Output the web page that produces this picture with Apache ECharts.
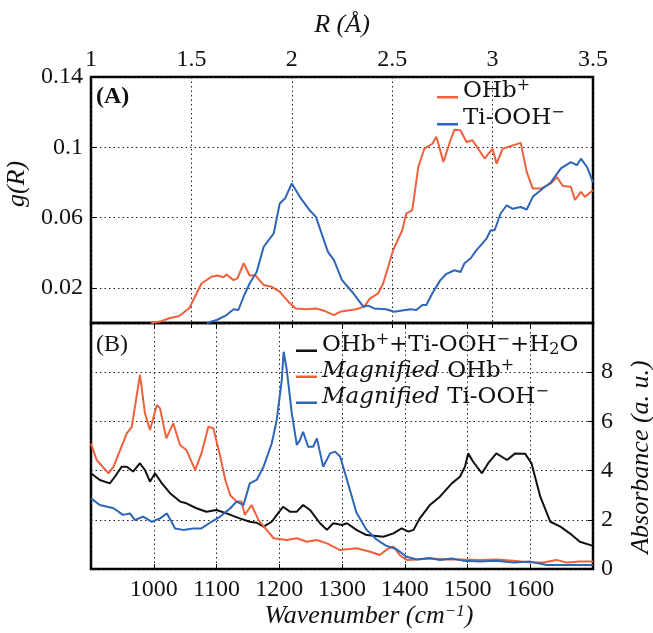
<!DOCTYPE html>
<html>
<head>
<meta charset="utf-8">
<title>g(R) and IR spectra</title>
<script src="https://cdn.jsdelivr.net/npm/echarts@6.0.0/dist/echarts.min.js"></script>
<style>
  html, body { margin: 0; padding: 0; background: #fff; }
  #container { width: 653px; height: 633px; }
</style>
</head>
<body>
<div id="container"></div>
<script type="text/javascript">
// (A) radial distribution g(R)
var rOhb = [1.30, 1.35, 1.39, 1.44, 1.49, 1.55, 1.60, 1.63, 1.66, 1.675, 1.71, 1.73, 1.76, 1.79, 1.82, 1.86, 1.90, 1.94, 1.99, 2.02,
  2.07, 2.12, 2.16, 2.21, 2.24, 2.32, 2.36, 2.39, 2.43, 2.455, 2.505, 2.55, 2.57, 2.60, 2.63, 2.66, 2.70, 2.72, 2.755, 2.79,
  2.81, 2.84, 2.87, 2.90, 2.96, 3.00, 3.02, 3.05, 3.14, 3.17, 3.20, 3.24, 3.29, 3.32, 3.35, 3.39, 3.41, 3.44, 3.46, 3.50];
var gOhb = [0, 0.001, 0.0027, 0.004, 0.0085, 0.0225, 0.0263, 0.027, 0.026, 0.0276, 0.0244, 0.0255, 0.034, 0.027, 0.027, 0.0216, 0.0206, 0.0178, 0.0112, 0.0083,
  0.0078, 0.0083, 0.007, 0.0045, 0.0064, 0.0078, 0.0093, 0.014, 0.0169, 0.0225, 0.0415, 0.0528, 0.0623, 0.0642, 0.0888, 0.0992, 0.102, 0.106, 0.0917, 0.104,
  0.11, 0.1097, 0.103, 0.104, 0.0936, 0.0992, 0.0907, 0.0992, 0.1025, 0.086, 0.0765, 0.0765, 0.0794, 0.083, 0.078, 0.0775, 0.07, 0.0746, 0.0718, 0.0756];

var rTi = [1.576, 1.626, 1.675, 1.71, 1.734, 1.76, 1.79, 1.825, 1.86, 1.91, 1.94, 1.966, 2.00, 2.04, 2.09, 2.12, 2.18, 2.21, 2.25, 2.30,
  2.356, 2.38, 2.41, 2.47, 2.51, 2.59, 2.62, 2.65, 2.67, 2.70, 2.74, 2.77, 2.81, 2.84, 2.86, 2.89, 2.92, 2.97, 2.99, 3.01,
  3.04, 3.07, 3.10, 3.14, 3.17, 3.20, 3.25, 3.29, 3.34, 3.39, 3.42, 3.44, 3.47, 3.50];
var gTi = [0, 0.0017, 0.0045, 0.0078, 0.0074, 0.015, 0.0225, 0.029, 0.0434, 0.051, 0.068, 0.0708, 0.0794, 0.0718, 0.064, 0.0604, 0.0405, 0.0358, 0.0244, 0.0178,
  0.0093, 0.0099, 0.0083, 0.0078, 0.0064, 0.0078, 0.0074, 0.0102, 0.0102, 0.0169, 0.0244, 0.028, 0.030, 0.029, 0.034, 0.0367, 0.0415, 0.048, 0.0528, 0.0528,
  0.0623, 0.067, 0.065, 0.066, 0.0646, 0.0718, 0.0765, 0.080, 0.088, 0.0916, 0.0898, 0.0935, 0.0888, 0.080];

// (B) spectra
var wnSum = [900, 914, 930, 938, 949, 957, 967, 978, 986, 994, 1002, 1013, 1026, 1042, 1052, 1068, 1084, 1100, 1116, 1137,
  1153, 1164, 1175, 1188, 1198, 1206, 1217, 1228, 1238, 1249, 1265, 1276, 1286, 1300, 1308, 1323, 1339, 1366, 1382, 1395,
  1406, 1414, 1424, 1440, 1456, 1475, 1488, 1496, 1501, 1509, 1523, 1533, 1546, 1563, 1576, 1592, 1602, 1616, 1632, 1648,
  1663, 1679, 1700];
var absSum = [3.89, 3.62, 3.48, 3.75, 4.16, 4.16, 3.96, 4.30, 4.02, 3.55, 3.89, 3.48, 3.08, 2.74, 2.67, 2.47, 2.33, 2.40, 2.26, 2.06,
  1.92, 1.88, 1.72, 1.92, 2.26, 2.53, 2.33, 2.33, 2.60, 2.40, 1.86, 1.59, 1.86, 1.79, 1.86, 1.59, 1.38, 1.31, 1.45, 1.65,
  1.52, 1.59, 2.06, 2.60, 2.94, 3.48, 3.75, 4.16, 4.70, 4.36, 3.89, 4.30, 4.70, 4.43, 4.70, 4.68, 4.30, 2.94, 1.92, 1.72,
  1.45, 1.11, 0.94];

var wnOhb = [900, 909, 928, 936, 957, 965, 978, 986, 994, 1005, 1010, 1020, 1031, 1042, 1052, 1066, 1076, 1087, 1095, 1106,
  1114, 1122, 1132, 1140, 1145, 1156, 1167, 1180, 1191, 1212, 1228, 1244, 1260, 1276, 1297, 1323, 1345, 1360, 1374, 1382,
  1392, 1403, 1419, 1440, 1467, 1493, 1520, 1546, 1573, 1600, 1621, 1642, 1658, 1679, 1700];
var absOhb = [5.1, 4.43, 3.89, 4.16, 5.51, 5.78, 7.89, 6.33, 5.65, 6.67, 6.53, 5.31, 5.92, 5.04, 4.84, 4.02, 4.70, 5.78, 5.72, 4.57,
  3.62, 3.0, 2.74, 2.74, 2.20, 2.60, 1.99, 1.59, 1.25, 1.18, 1.25, 1.11, 1.18, 1.04, 0.77, 0.84, 0.70, 0.57, 0.84, 0.91,
  0.57, 0.37, 0.39, 0.43, 0.39, 0.39, 0.37, 0.39, 0.34, 0.26, 0.26, 0.37, 0.26, 0.30, 0.30];

var wnTi = [900, 914, 936, 951, 962, 970, 983, 997, 1010, 1021, 1034, 1047, 1063, 1076, 1092, 1106, 1122, 1132, 1143, 1153,
  1164, 1175, 1188, 1196, 1204, 1207, 1212, 1220, 1228, 1233, 1238, 1246, 1254, 1260, 1270, 1281, 1289, 1297, 1308, 1323,
  1339, 1355, 1370, 1387, 1403, 1419, 1440, 1456, 1475, 1493, 1520, 1546, 1573, 1600, 1626, 1652, 1700];
var absTi = [2.87, 2.60, 2.47, 2.20, 2.26, 1.99, 2.13, 1.92, 2.06, 2.26, 1.65, 1.59, 1.65, 1.65, 1.92, 2.13, 2.47, 2.74, 2.60, 3.48,
  3.62, 4.16, 5.10, 6.06, 7.68, 8.83, 8.09, 6.33, 5.04, 5.24, 5.58, 4.97, 4.97, 5.31, 4.16, 4.70, 4.77, 4.57, 3.62, 2.30,
  1.60, 1.20, 0.95, 0.80, 0.50, 0.39, 0.45, 0.37, 0.43, 0.34, 0.30, 0.34, 0.26, 0.30, 0.16, 0.16, 0.16];

var gTicks = [0.02, 0.06, 0.1, 0.14];

var ORANGE = '#f0603c';
var BLUE = '#2d65b8';
var BLACK = '#111111';
var FONT = '"Liberation Serif", "DejaVu Serif", serif';
var LFONT = '"DejaVu Serif", serif';

function zip(xs, ys) {
  return xs.map(function (x, i) { return [x, ys[i]]; });
}

var dom = document.getElementById('container');
var myChart = echarts.init(dom, null, { renderer: 'canvas' });

var dotted = { color: '#222', width: 1, type: [1.5, 3] };
var tickStyle = { inside: true, length: 5, lineStyle: { color: '#000', width: 1 } };
var labelStyle = { fontFamily: FONT, fontSize: 24, color: BLACK };
var nameStyle = { fontFamily: FONT, fontSize: 26, fontStyle: 'italic', color: BLACK };
var rich = {
  sup: { fontFamily: LFONT, fontSize: 16, lineHeight: 8, verticalAlign: 'top', color: BLACK },
  sub: { fontFamily: LFONT, fontSize: 16, lineHeight: 8, verticalAlign: 'bottom', color: BLACK },
  it: { fontFamily: LFONT, fontSize: 23, fontStyle: 'italic', color: BLACK }
};
var nameRich = {
  sup: { fontFamily: FONT, fontSize: 17, lineHeight: 8, verticalAlign: 'top', fontStyle: 'italic', color: BLACK }
};
// short dash placed near the bottom of the icon box
var dashIcon = 'path://M0,0M0,11.5L21,11.5L21,14L0,14Z';

var legendNames = {
  'OHb+': 'OHb{sup|+}',
  'Ti-OOH-': 'Ti-OOH{sup|\u2212}',
  'sum': 'OHb{sup|+}+Ti-OOH{sup|\u2212}+H{sub|2}O',
  'magOhb': '{it|Magnified} OHb{sup|+}',
  'magTi': '{it|Magnified} Ti-OOH{sup|\u2212}'
};

function legendBase(names, left, top, lh) {
  return {
    data: names,
    orient: 'vertical',
    left: left,
    top: top,
    padding: 0,
    itemGap: 0,
    itemWidth: 21,
    itemHeight: 14,
    icon: dashIcon,
    itemStyle: { borderWidth: 0 },
    selectedMode: false,
    textStyle: { fontFamily: LFONT, fontSize: 23, color: BLACK, lineHeight: lh, rich: rich },
    formatter: function (name) { return legendNames[name]; }
  };
}

var option = {
  animation: false,
  backgroundColor: '#fff',
  title: [
    { text: '(A)', left: 96, top: 85, padding: 0,
      textStyle: { fontFamily: FONT, fontSize: 24, fontWeight: 'bold', color: BLACK } },
    { text: '(B)', left: 96, top: 333, padding: 0,
      textStyle: { fontFamily: FONT, fontSize: 24, fontWeight: 'normal', color: BLACK } }
  ],
  legend: [
    legendBase(['OHb+', 'Ti-OOH-'], 437, 78, 27),
    legendBase(['sum', 'magOhb', 'magTi'], 296, 332, 26)
  ],
  grid: [
    { left: 91, top: 77, width: 502, height: 246, show: true, borderColor: '#000', borderWidth: 2.5,
      backgroundColor: 'transparent', outerBoundsMode: 'none', containLabel: false },
    { left: 91, top: 323, width: 502, height: 246, show: true, borderColor: '#000', borderWidth: 2.5,
      backgroundColor: 'transparent', outerBoundsMode: 'none', containLabel: false }
  ],
  xAxis: [
    {
      gridIndex: 0, type: 'value', position: 'top', min: 1, max: 3.5, interval: 0.5,
      axisLine: { show: false }, axisTick: tickStyle,
      axisLabel: Object.assign({ margin: 5, showMinLabel: true, showMaxLabel: true }, labelStyle),
      splitLine: { show: true, lineStyle: dotted },
      name: 'R (\u00c5)', nameLocation: 'middle', nameGap: 39, nameTextStyle: nameStyle
    },
    {
      gridIndex: 1, type: 'value', position: 'bottom', min: 900, max: 1700, interval: 100,
      axisLine: { show: false }, axisTick: tickStyle,
      axisLabel: Object.assign({
        margin: 9,
        formatter: function (v) { return (v === 900 || v === 1700) ? '' : String(v); }
      }, labelStyle),
      splitLine: { show: true, lineStyle: dotted },
      name: 'Wavenumber (cm{sup|\u22121})', nameLocation: 'middle', nameGap: 32,
      nameTextStyle: Object.assign({ padding: [0, 0, 0, 54], rich: nameRich }, nameStyle)
    },
    {
      gridIndex: 1, type: 'value', position: 'top', min: 900, max: 1700, interval: 100,
      axisLine: { show: false }, axisTick: tickStyle, axisLabel: { show: false }, splitLine: { show: false }
    }
  ],
  yAxis: [
    {
      gridIndex: 0, type: 'value', position: 'left', min: 0, max: 0.14,
      axisLine: { show: false },
      axisTick: Object.assign({ customValues: gTicks }, tickStyle),
      axisLabel: Object.assign({ margin: 8, customValues: gTicks, showMaxLabel: true }, labelStyle),
      splitLine: { show: true, lineStyle: dotted },
      name: 'g(R)', nameLocation: 'middle', nameGap: 54,
      nameTextStyle: Object.assign({ padding: [0, 0, 0, 32] }, nameStyle)
    },
    {
      gridIndex: 1, type: 'value', position: 'right', min: 0, max: 10, interval: 2,
      axisLine: { show: false }, axisTick: tickStyle,
      axisLabel: Object.assign({
        margin: 8,
        formatter: function (v) { return v === 10 ? '' : String(v); }
      }, labelStyle),
      splitLine: { show: true, lineStyle: dotted },
      name: 'Absorbance (a. u.)', nameLocation: 'middle', nameGap: 35,
      nameTextStyle: Object.assign({ padding: [0, 22, 0, 0] }, nameStyle)
    }
  ],
  series: [
    { name: 'OHb+', type: 'line', xAxisIndex: 0, yAxisIndex: 0, data: zip(rOhb, gOhb),
      symbol: 'none', lineStyle: { width: 2, color: ORANGE }, itemStyle: { color: ORANGE } },
    { name: 'Ti-OOH-', type: 'line', xAxisIndex: 0, yAxisIndex: 0, data: zip(rTi, gTi),
      symbol: 'none', lineStyle: { width: 2, color: BLUE }, itemStyle: { color: BLUE } },
    { name: 'sum', type: 'line', xAxisIndex: 1, yAxisIndex: 1, data: zip(wnSum, absSum),
      symbol: 'none', lineStyle: { width: 2, color: BLACK }, itemStyle: { color: BLACK } },
    { name: 'magOhb', type: 'line', xAxisIndex: 1, yAxisIndex: 1, data: zip(wnOhb, absOhb),
      symbol: 'none', lineStyle: { width: 2, color: ORANGE }, itemStyle: { color: ORANGE } },
    { name: 'magTi', type: 'line', xAxisIndex: 1, yAxisIndex: 1, data: zip(wnTi, absTi),
      symbol: 'none', lineStyle: { width: 2, color: BLUE }, itemStyle: { color: BLUE } }
  ]
};

myChart.setOption(option);
window.addEventListener('resize', myChart.resize);
</script>
</body>
</html>
